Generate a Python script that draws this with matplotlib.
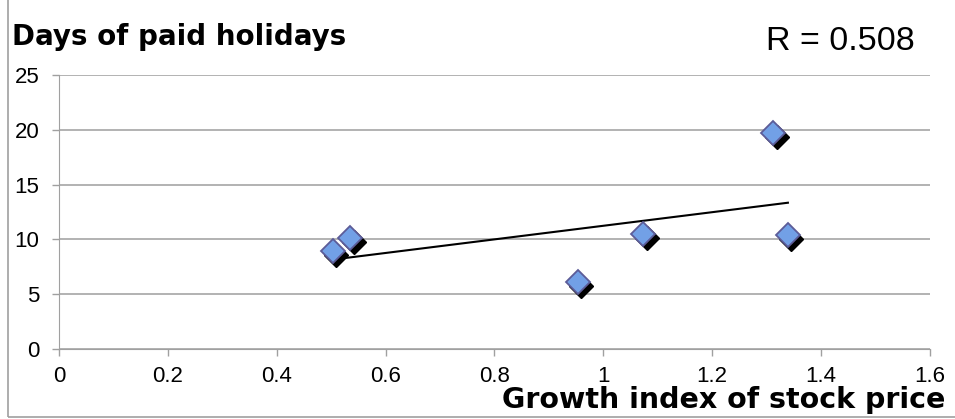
import numpy as np
import matplotlib
matplotlib.use("Agg")
import matplotlib.pyplot as plt
import matplotlib.transforms as mtransforms
from matplotlib.patches import Rectangle

plt.rcParams['font.family'] = ['Liberation Sans', 'DejaVu Sans']

# growth index of stock price vs. days of paid holidays
growth = [0.503, 0.535, 0.953, 1.073, 1.312, 1.339]
holidays = [8.9, 10.1, 6.1, 10.5, 19.7, 10.4]
r_value = 0.508

xticks = [0, 0.2, 0.4, 0.6, 0.8, 1, 1.2, 1.4, 1.6]
xlabels = ['0', '0.2', '0.4', '0.6', '0.8', '1', '1.2', '1.4', '1.6']
yticks = [0, 5, 10, 15, 20, 25]

fig = plt.figure(figsize=(9.55, 4.19), dpi=100)
ax = fig.add_axes([0.0618, 0.167, 0.912, 0.654])

# outer chart frame
fig.patches.append(Rectangle((0.008, 0.004), 1.2, 1.2, transform=fig.transFigure,
                             fill=False, edgecolor='#a0a0a0', lw=1.2))

ax.set_xlim(0, 1.6)
ax.set_ylim(0, 25)
ax.set_xticks(xticks)
ax.set_xticklabels(xlabels)
ax.set_yticks(yticks)
ax.tick_params(axis='both', labelsize=16, colors='#a0a0a0', labelcolor='black',
               length=5, width=1)
ax.tick_params(axis='x', pad=7)
ax.tick_params(axis='y', pad=9)
ax.grid(axis='y', color='#a6a6a6', lw=1.2)
ax.set_axisbelow(True)
for side in ['top', 'right']:
    ax.spines[side].set_visible(False)
for side in ['left', 'bottom']:
    ax.spines[side].set_color('#a0a0a0')

# linear trend line
slope, icpt = np.polyfit(growth, holidays, 1)
xs = np.array([min(growth), max(growth)])
ax.plot(xs, slope * xs + icpt, color='black', lw=1.5, zorder=2)

# markers with drop shadow
shadow = mtransforms.offset_copy(ax.transData, fig=fig, x=3.5, y=-4, units='dots')
ax.plot(growth, holidays, 'D', ms=12.5, color='black', mec='black', transform=shadow, zorder=3)
ax.plot(growth, holidays, 'D', ms=12.5, color='#72a0e6', mec='#5c5c98', mew=1.3, zorder=4)

fig.text(0.013, 0.893, 'Days of paid holidays', fontsize=20, fontweight='bold',
         family='DejaVu Sans', ha='left', va='baseline')
fig.text(0.958, 0.881, 'R = %.3f' % r_value, fontsize=24.5, fontweight='medium',
         ha='right', va='baseline')
fig.text(0.99, 0.026, 'Growth index of stock price', fontsize=20.5, fontweight='bold',
         family='DejaVu Sans', ha='right', va='baseline')

fig.savefig('out.png', dpi=100)
